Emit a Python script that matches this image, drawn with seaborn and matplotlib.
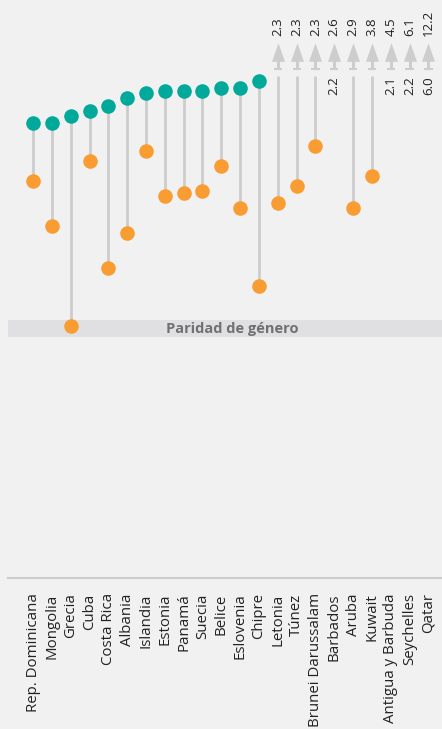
import pandas as pd
import seaborn as sns
import matplotlib.pyplot as plt
import numpy as np

# ----------------------------------------------------------------
# Data
# ----------------------------------------------------------------
countries = ["Rep. Dominicana", "Mongolia", "Grecia", "Cuba", "Costa Rica",
             "Albania", "Islandia", "Estonia", "Panamá", "Suecia", "Belice",
             "Eslovenia", "Chipre", "Letonia", "Túnez", "Brunei Darussalam",
             "Barbados", "Aruba", "Kuwait", "Antigua y Barbuda", "Seychelles",
             "Qatar"]
teal_vals = [1.82, 1.82, 1.85, 1.87, 1.89, 1.92, 1.94, 1.95, 1.95, 1.95, 1.96,
             1.96, 1.99, 2.3, 2.3, 2.3, 2.6, 2.9, 3.8, 4.5, 6.1, 12.2]
orange_vals = [1.59, 1.41, 1.01, 1.67, 1.24, 1.38, 1.71, 1.53, 1.54, 1.55, 1.65,
               1.48, 1.17, 1.50, 1.57, 1.73, 2.2, 1.48, 1.61, 2.1, 2.2, 6.0]
parity_band = (0.965, 1.032)

TEAL = "#00a99a"
ORANGE = "#f99d33"
GREY = "#cdcdcd"
BG = "#f1f1f1"
TXT = "#222222"
CAP = 2.05          # values above this are drawn as arrows + labels

df = pd.DataFrame({"pais": countries, "teal": teal_vals, "orange": orange_vals})
df["x"] = np.arange(len(df))

# ----------------------------------------------------------------
# Figure
# ----------------------------------------------------------------
sns.set_theme(style="white")
plt.rcParams["font.family"] = ["Open Sans", "DejaVu Sans"]

fig = plt.figure(figsize=(4.42, 7.29), dpi=100, facecolor=BG)
ax = fig.add_axes([8 / 442, 1 - 578 / 729, 434 / 442, 578 / 729])
ax.set_facecolor(BG)
ax.set_xlim(-1.33, 21.72)
ax.set_ylim(0, 578 / 250)

# parity band
ax.axhspan(*parity_band, color="#e0e0e2", zorder=0, lw=0)
ax.text(0.516, np.mean(parity_band) - 0.002, "Paridad de género",
        transform=ax.get_yaxis_transform(), ha="center", va="center",
        fontsize=10.5, fontweight="bold", color="#707070")

# connecting lines
for _, r in df.iterrows():
    top = min(r["teal"], 2.01)
    if r["orange"] <= CAP:
        ax.vlines(r["x"], r["orange"], top, color=GREY, lw=2, zorder=1)

# off-chart markers: arrow with a small foot + value label
off_teal = df[df["teal"] > CAP]
arrow_head = [(-0.7, -1.0), (0.7, -1.0), (0.0, 1.0)]
ax.vlines(off_teal["x"], 2.036, 2.08, color=GREY, lw=2.2, zorder=1)
ax.hlines(np.full(len(off_teal), 2.036), off_teal["x"] - 0.22, off_teal["x"] + 0.22,
          color=GREY, lw=1.5, zorder=1)
ax.scatter(off_teal["x"], np.full(len(off_teal), 2.106), marker=arrow_head, s=180,
           color=GREY, linewidths=0, zorder=2, clip_on=False)
for _, r in off_teal.iterrows():
    ax.text(r["x"], 2.168, f"{r['teal']:.1f}", rotation=90, ha="center",
            va="bottom", fontsize=9.5, color=TXT)
for _, r in df[df["orange"] > CAP].iterrows():
    ax.text(r["x"], 2.008, f"{r['orange']:.1f}", rotation=90, ha="center",
            va="top", fontsize=9.5, color=TXT)

on_teal = df[df["teal"] <= CAP]
on_orange = df[df["orange"] <= CAP]
sns.scatterplot(data=on_teal, x="x", y="teal", color=TEAL, s=110, linewidth=0,
                zorder=3, ax=ax)
sns.scatterplot(data=on_orange, x="x", y="orange", color=ORANGE, s=110, linewidth=0,
                zorder=3, ax=ax)

# axes cosmetics
ax.set_xticks(df["x"])
ax.set_xticklabels(df["pais"], rotation=90, fontsize=10.8, color=TXT)
ax.tick_params(axis="x", length=0, pad=11)
ax.set_yticks([])
ax.set_xlabel("")
ax.set_ylabel("")
for side in ["top", "left", "right"]:
    ax.spines[side].set_visible(False)
ax.spines["bottom"].set_color(GREY)
ax.spines["bottom"].set_linewidth(1.5)

fig.savefig("out.png", dpi=100, facecolor=BG)
